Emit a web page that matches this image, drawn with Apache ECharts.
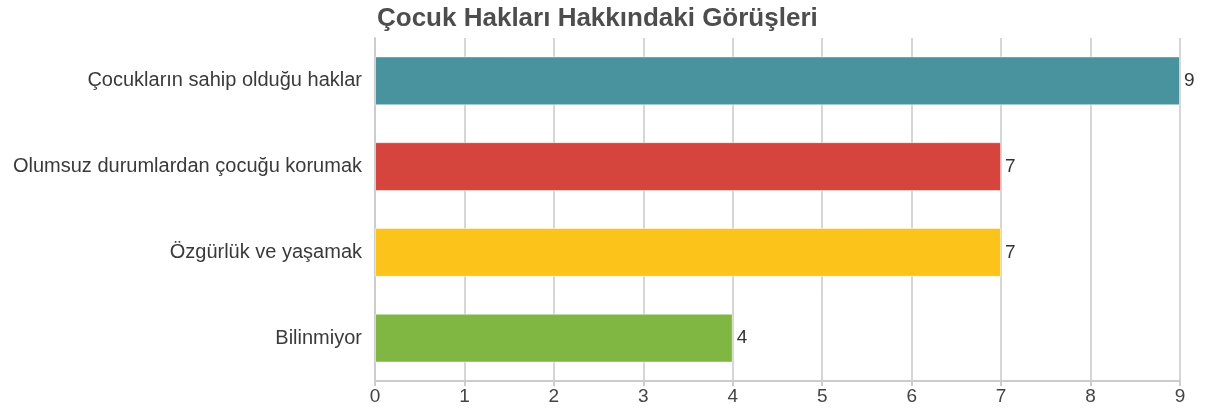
<!DOCTYPE html>
<html>
<head>
<meta charset="utf-8">
<script src="https://cdn.jsdelivr.net/npm/echarts@6/dist/echarts.min.js"></script>
<style>
  html, body { margin: 0; padding: 0; background: #fff; }
  #chart { width: 1218px; height: 417px; }
</style>
</head>
<body>
<div id="chart"></div>
<script>
// kategoriler alttan üste
var categories = ['Bilinmiyor', 'Özgürlük ve yaşamak', 'Olumsuz durumlardan çocuğu korumak', 'Çocukların sahip olduğu haklar'];
var values = [4, 7, 7, 9];
var barColors = ['#80b642', '#fcc41a', '#d5443d', '#48939e'];
var xTicks = [0, 1, 2, 3, 4, 5, 6, 7, 8, 9];

var chart = echarts.init(document.getElementById('chart'));

var option = {
    animation: false,
    title: {
        text: 'Çocuk Hakları Hakkındaki Görüşleri',
        left: 372,
        top: 1,
        textStyle: {
            fontFamily: 'Liberation Sans',
            fontSize: 26,
            fontWeight: 'bold',
            color: '#4d4d4d'
        }
    },
    grid: {
        left: 375,
        right: 38,
        top: 38,
        bottom: 36
    },
    xAxis: {
        type: 'value',
        min: xTicks[0],
        max: xTicks[xTicks.length - 1],
        interval: 1,
        axisLine: { show: true, lineStyle: { color: '#cccccc', width: 2 } },
        axisTick: { show: true, length: 5, lineStyle: { color: '#cccccc', width: 2 } },
        splitLine: { show: true, lineStyle: { color: '#d6d6d6', width: 2 } },
        axisLabel: {
            fontFamily: 'Liberation Sans',
            fontSize: 19,
            color: '#444',
            margin: 6
        }
    },
    yAxis: {
        type: 'category',
        data: categories,
        axisLine: { show: true, lineStyle: { color: '#cccccc', width: 2 } },
        axisTick: { show: false },
        axisLabel: {
            fontFamily: 'Liberation Sans',
            fontSize: 20,
            color: '#3a3a3a',
            margin: 13
        }
    },
    series: [{
        type: 'bar',
        barWidth: '57%',
        data: values.map(function (v, i) {
            return {
                value: v,
                itemStyle: {
                    color: barColors[i],
                    borderColor: 'rgba(255,255,255,0.5)',
                    borderWidth: 1
                }
            };
        }),
        label: {
            show: true,
            position: 'right',
            distance: 4,
            fontFamily: 'Liberation Sans',
            fontSize: 19,
            color: '#333'
        }
    }]
};
chart.setOption(option);
</script>
</body>
</html>
